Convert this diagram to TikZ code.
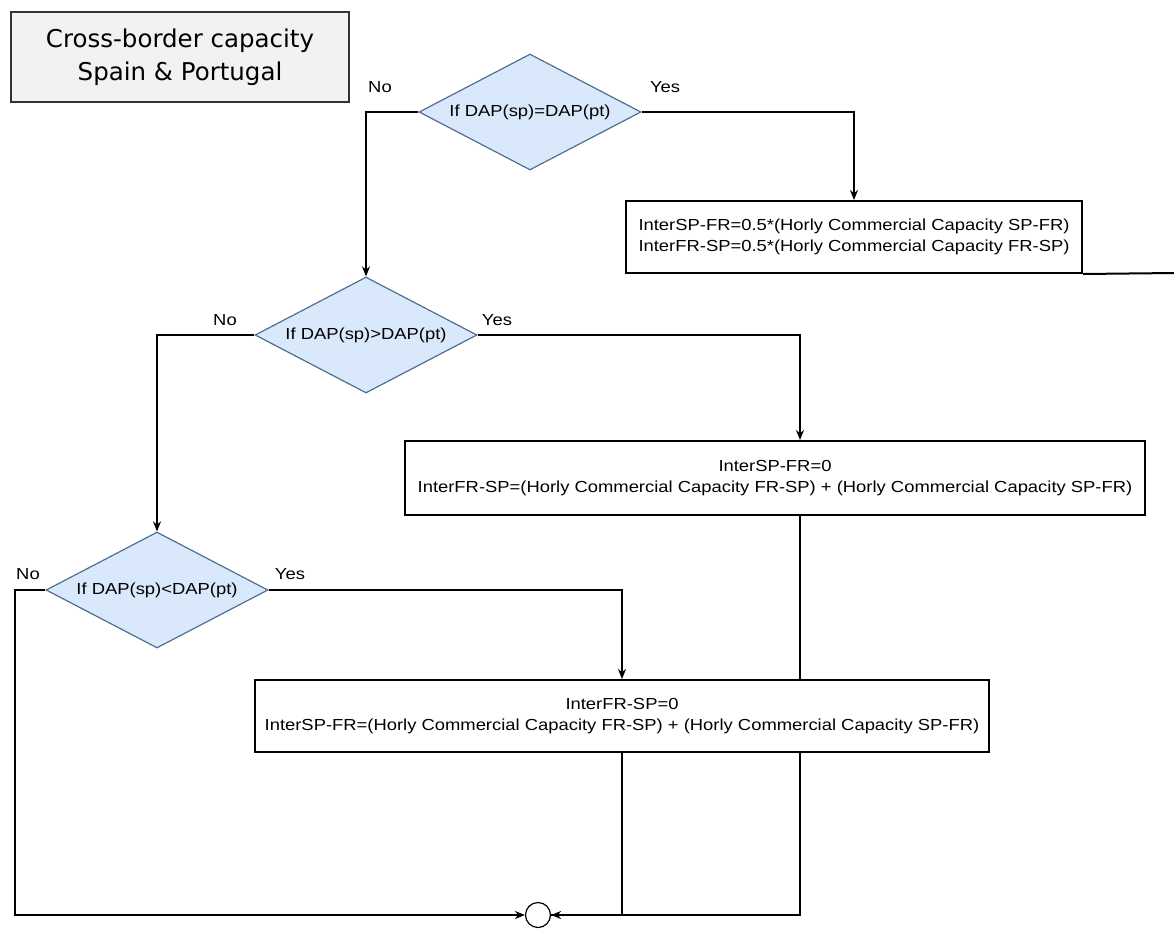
\documentclass[tikz,border=0pt]{standalone}
\usepackage{fontspec}
\setmainfont{Liberation Sans}[FakeStretch=1.15]
\newfontfamily\titlefont{DejaVu Sans}
\usetikzlibrary{shapes.geometric,arrows.meta,backgrounds}
\definecolor{decfill}{HTML}{DAE8FC}
\definecolor{decline}{HTML}{4F6F8F}
\definecolor{titlefill}{HTML}{F2F2F2}
\begin{document}
\begin{tikzpicture}[
    x=1pt, y=-1pt,
    font=\fontsize{16}{20.5}\selectfont,
    titlebox/.style={
        draw=black!80,
        line width=2pt,
        fill=titlefill,
        minimum width=338pt,
        minimum height=90pt,
        align=center,
        font=\titlefont\fontsize{24.5}{33}\selectfont
    },
    decision/.style={
        diamond,
        aspect=1.9,
        draw=decline,
        line width=1.2pt,
        fill=decfill,
        minimum width=222pt,
        minimum height=116pt,
        inner sep=0pt
    },
    action/.style={
        draw,
        line width=2pt,
        fill=white,
        inner sep=0pt
    },
    arr/.style={
        line width=2pt,
        -{Stealth[length=10pt,width=8pt]}
    },
    conn/.style={line width=2pt},
    lbl/.style={inner sep=0pt}
]
\useasboundingbox (0,0) rectangle (1174,945);

% Title
\node[titlebox] (t) at (180,57) {Cross-border capacity\\Spain \& Portugal};

% Decisions
\node[decision] (d1) at (530,112) {If DAP(sp)=DAP(pt)};
\node[decision] (d2) at (366,335) {If DAP(sp)>DAP(pt)};
\node[decision] (d3) at (157,590) {If DAP(sp)<DAP(pt)};

% Actions
\node[action, minimum width=456pt, minimum height=72pt, align=left] (b1) at (854,237)
    {InterSP-FR=0.5*(Horly Commercial Capacity SP-FR)\\InterFR-SP=0.5*(Horly Commercial Capacity FR-SP)};
\node[action, minimum width=740pt, minimum height=74pt, align=center] (b2) at (775,478)
    {InterSP-FR=0\\InterFR-SP=(Horly Commercial Capacity FR-SP) + (Horly Commercial Capacity SP-FR)};
\node[action, minimum width=734pt, minimum height=72pt, align=center] (b3) at (622,716)
    {InterFR-SP=0\\InterSP-FR=(Horly Commercial Capacity FR-SP) + (Horly Commercial Capacity SP-FR)};

% End
\node[draw, circle, line width=1.2pt, minimum size=25pt, inner sep=0pt] (e) at (538,915) {};
\coordinate (j1) at (15,915);
\coordinate (j2) at (800,915);
\coordinate (x1) at (1174,273);

% Labels
\node[lbl] at (380,87) {No};
\node[lbl] at (665,87) {Yes};
\node[lbl] at (225,320) {No};
\node[lbl] at (497,320) {Yes};
\node[lbl] at (28,574) {No};
\node[lbl] at (290,574) {Yes};

% Connectors
\begin{scope}[on background layer]
\draw[arr] (d1.west) -| (d2.north);
\draw[arr] (d1.east) -| (b1.north);
\draw[arr] (d2.west) -| (d3.north);
\draw[arr] (d2.east) -| ([xshift=25pt]b2.north);
\draw[arr] (d3.east) -| (b3.north);
\draw[arr] (d3.west) -| (j1) -- (e.west);
\draw[conn] ([xshift=25pt]b2.south) -- (j2) -- (e.east);
\draw[arr] (b3.south) |- (e.east);
\draw[conn] (b1.south east) -- (x1);
\end{scope}
\end{tikzpicture}
\end{document}
